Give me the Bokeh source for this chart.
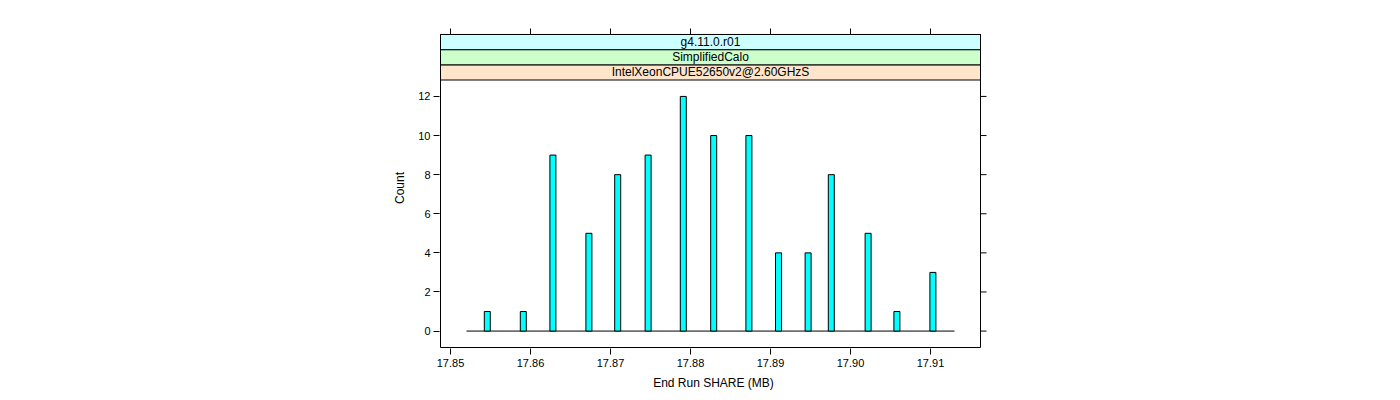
from bokeh.plotting import figure
from bokeh.models import Range1d, FixedTicker, ColumnDataSource
from bokeh.core.properties import value
from bokeh.embed import file_html
from bokeh.resources import INLINE

# Data
share_mb = [17.8546, 17.8591, 17.8628, 17.8673, 17.8709, 17.8747, 17.8791, 17.8829,
            17.8873, 17.8910, 17.8947, 17.8976, 17.9022, 17.9058, 17.9103]
counts = [1, 1, 9, 5, 8, 9, 12, 10, 10, 4, 4, 8, 5, 1, 3]
x_ticks = [17.85, 17.86, 17.87, 17.88, 17.89, 17.90, 17.91]
x_tick_labels = ["17.85", "17.86", "17.87", "17.88", "17.89", "17.90", "17.91"]
y_ticks = [0, 2, 4, 6, 8, 10, 12]
strip_labels = ["IntelXeonCPUE52650v2@2.60GHzS", "SimplifiedCalo", "g4.11.0.r01"]
strip_colors = ["#FFE5CC", "#CCFFCC", "#CCFFFF"]
hist_lo, hist_hi = 17.852, 17.913
bar_w = 0.00075

FONT = "Liberation Sans"

FRAME_W, PANEL_H = 540.0, 268.0
x0, x1 = 17.84875, 17.91625
ylo, yhi = -0.84, 12.84
upp = (yhi - ylo) / PANEL_H
xupp = (x1 - x0) / FRAME_W
strip_h = 15.2 * upp
ytop = yhi + 3 * strip_h
TICK = 6
PAD = 1

p = figure(width=1400, height=400, output_backend="svg", toolbar_location=None,
           x_range=Range1d(x0 - PAD * xupp, x1 + (TICK + 1) * xupp),
           y_range=Range1d(ylo - PAD * upp, ytop + (TICK + 1) * upp),
           min_border_left=440 - PAD, min_border_right=420 - TICK - 1,
           min_border_top=34 - TICK - 1, min_border_bottom=53 - PAD,
           x_axis_label="End Run SHARE (MB)", y_axis_label="Count")
p.grid.visible = False
p.outline_line_color = None
p.background_fill_color = "white"
p.border_fill_color = "white"

# baseline
p.line(x=[hist_lo, hist_hi], y=[0, 0], line_color="black", line_width=1)

src = ColumnDataSource(dict(x=share_mb, top=counts))
p.vbar(x="x", top="top", bottom=0, width=bar_w, source=src,
       fill_color="#00FFFF", line_color="black", line_width=1)

# strips
for i, (lab, col) in enumerate(zip(strip_labels, strip_colors)):
    b = yhi + i * strip_h
    p.quad(left=x0, right=x1, bottom=b, top=b + strip_h, fill_color=col,
           line_color="black", line_width=1)
    p.text(x=[(x0 + x1) / 2], y=[b + strip_h / 2], text=[lab], text_align="center",
           text_baseline="middle", text_font_size="12px", text_color="black",
           text_font=value(FONT))

# panel box
p.quad(left=x0, right=x1, bottom=ylo, top=ytop, fill_color=None,
       line_color="black", line_width=1)

# right and top tick marks (no labels)
p.segment(x0=[x1] * len(y_ticks), y0=y_ticks,
          x1=[x1 + TICK * xupp] * len(y_ticks), y1=y_ticks,
          line_color="black", line_width=1)
p.segment(x0=x_ticks, y0=[ytop] * len(x_ticks),
          x1=x_ticks, y1=[ytop + TICK * upp] * len(x_ticks),
          line_color="black", line_width=1)

def style_axis(ax):
    ax.axis_line_color = None
    ax.major_tick_in = 0
    ax.major_tick_out = TICK
    ax.minor_tick_line_color = None
    ax.major_tick_line_color = "black"
    ax.major_label_text_font = FONT
    ax.major_label_text_font_size = "11px"
    ax.major_label_text_color = "black"
    ax.axis_label_text_font = FONT
    ax.axis_label_text_font_size = "12px"
    ax.axis_label_text_font_style = "normal"
    ax.axis_label_text_color = "black"

xa = p.xaxis[0]
xa.ticker = FixedTicker(ticks=x_ticks)
xa.major_label_overrides = {t: l for t, l in zip(x_ticks, x_tick_labels)}
style_axis(xa)
xa.major_label_standoff = 4
xa.axis_label_standoff = 6

ya = p.yaxis[0]
ya.ticker = FixedTicker(ticks=y_ticks)
style_axis(ya)
ya.major_label_standoff = 3
ya.axis_label_standoff = 8
ya.major_label_orientation = "horizontal"

open("out.html", "w").write(file_html(p, INLINE))
